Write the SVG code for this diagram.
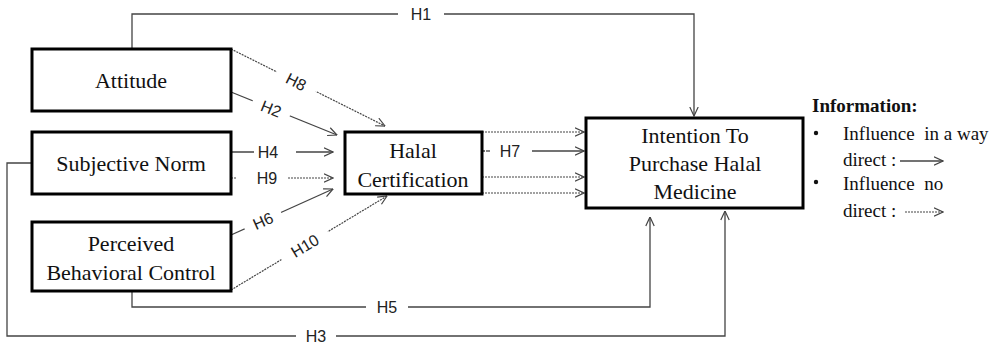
<svg xmlns="http://www.w3.org/2000/svg" width="996" height="346" viewBox="0 0 996 346">
  <style>
    .box { fill: #fff; stroke: #000; stroke-width: 3; }
    .node-text { font-family: "Liberation Serif", "Times New Roman", serif; font-size: 22px; fill: #111; text-anchor: middle; }
    .solid { fill: none; stroke: #444; stroke-width: 1.3; }
    .dash { fill: none; stroke: #444; stroke-width: 1.2; stroke-dasharray: 2 1; }
    .lbl { font-family: "Liberation Sans", Arial, sans-serif; font-size: 16px; fill: #222; text-anchor: middle; dominant-baseline: central; }
    .gap { fill: #fff; stroke: none; }
    .legend { font-family: "Liberation Serif", "Times New Roman", serif; font-size: 19px; fill: #111; }
  </style>
  <defs>
    <marker id="arr" viewBox="0 0 10 10" refX="9.5" refY="5" markerWidth="10" markerHeight="10" markerUnits="userSpaceOnUse" orient="auto">
      <path d="M0.5,0.8 L9.5,5 L0.5,9.2" fill="none" stroke="#444" stroke-width="1.2"/>
    </marker>
  </defs>
  <rect width="996" height="346" fill="#fff"/>

  <!-- connectors -->
  <g id="connectors">
    <!-- H1: Attitude -> Intention -->
    <polyline class="solid" points="132,49 132,14 694,14 694,116" marker-end="url(#arr)"/>
    <!-- H3: Subjective Norm -> Intention -->
    <polyline class="solid" points="32,163 7,163 7,336 725,336 725,211" marker-end="url(#arr)"/>
    <!-- H5: PBC -> Intention -->
    <polyline class="solid" points="132,291 132,307 650,307 650,217" marker-end="url(#arr)"/>
    <!-- H8 dashed: Attitude -> Halal -->
    <line class="dash" x1="231" y1="49" x2="385" y2="126" marker-end="url(#arr)"/>
    <!-- H2: Attitude -> Halal -->
    <line class="solid" x1="231" y1="92" x2="337" y2="135" marker-end="url(#arr)"/>
    <!-- H4: Subjective Norm -> Halal -->
    <line class="solid" x1="231" y1="152" x2="333" y2="152" marker-end="url(#arr)"/>
    <!-- H9 dashed: Subjective Norm -> Halal -->
    <line class="dash" x1="231" y1="178" x2="333" y2="178" marker-end="url(#arr)"/>
    <!-- H6: PBC -> Halal -->
    <line class="solid" x1="231" y1="235" x2="333" y2="189" marker-end="url(#arr)"/>
    <!-- H10 dashed: PBC -> Halal -->
    <line class="dash" x1="231" y1="290" x2="387" y2="196" marker-end="url(#arr)"/>
    <!-- Halal -> Intention -->
    <line class="dash" x1="482" y1="132" x2="584" y2="132" marker-end="url(#arr)"/>
    <line class="solid" x1="482" y1="151" x2="584" y2="151" marker-end="url(#arr)"/>
    <line class="dash" x1="482" y1="177" x2="584" y2="177" marker-end="url(#arr)"/>
    <line class="dash" x1="482" y1="193" x2="584" y2="193" marker-end="url(#arr)"/>

    <!-- path labels with white gaps -->
    <rect class="gap" x="398" y="6" width="46" height="16"/>
    <text class="lbl" x="421" y="14">H1</text>
    <rect class="gap" x="296" y="328" width="40" height="16"/>
    <text class="lbl" x="316" y="336">H3</text>
    <rect class="gap" x="366" y="299" width="42" height="16"/>
    <text class="lbl" x="387" y="307">H5</text>
    <rect class="gap" x="254" y="144" width="42" height="16"/>
    <text class="lbl" x="268" y="152">H4</text>
    <rect class="gap" x="237" y="170" width="50" height="16"/>
    <text class="lbl" x="267" y="178">H9</text>
    <rect class="gap" x="485" y="143" width="47" height="16"/>
    <line class="solid" x1="486" y1="151" x2="490" y2="151"/>
    <text class="lbl" x="510" y="151">H7</text>
    <g transform="translate(296,82) rotate(26.6)">
      <rect class="gap" x="-22" y="-8" width="44" height="16"/>
      <text class="lbl" x="0" y="0">H8</text>
    </g>
    <g transform="translate(271,109) rotate(22)">
      <rect class="gap" x="-20" y="-8" width="40" height="16"/>
      <text class="lbl" x="0" y="0">H2</text>
    </g>
    <g transform="translate(263,221) rotate(-24)">
      <rect class="gap" x="-20" y="-8" width="40" height="16"/>
      <text class="lbl" x="0" y="0">H6</text>
    </g>
    <g transform="translate(305,246) rotate(-31)">
      <rect class="gap" x="-27" y="-8" width="54" height="16"/>
      <text class="lbl" x="0" y="0">H10</text>
    </g>
  </g>

  <!-- nodes -->
  <g id="attitude">
    <rect class="box" x="32" y="49" width="199" height="62"/>
    <text class="node-text" x="131" y="88">Attitude</text>
  </g>
  <g id="subjective-norm">
    <rect class="box" x="32" y="132" width="199" height="62"/>
    <text class="node-text" x="131" y="171">Subjective Norm</text>
  </g>
  <g id="perceived-behavioral-control">
    <rect class="box" x="32" y="222" width="199" height="69"/>
    <text class="node-text" x="131" y="251">Perceived</text>
    <text class="node-text" x="131" y="280">Behavioral Control</text>
  </g>
  <g id="halal-certification">
    <rect class="box" x="345" y="132" width="137" height="62"/>
    <text class="node-text" x="413" y="158">Halal</text>
    <text class="node-text" x="413" y="187">Certification</text>
  </g>
  <g id="intention">
    <rect class="box" x="586" y="118" width="217" height="90"/>
    <text class="node-text" x="695" y="143">Intention To</text>
    <text class="node-text" x="695" y="171">Purchase Halal</text>
    <text class="node-text" x="695" y="199">Medicine</text>
  </g>

  <!-- legend -->
  <g id="legend">
    <text class="legend" x="812" y="112" font-weight="bold">Information:</text>
    <circle cx="816" cy="133" r="2.2" fill="#111"/>
    <text class="legend" x="843" y="140" xml:space="preserve">Influence  in a way</text>
    <text class="legend" x="843" y="166">direct :</text>
    <line class="solid" x1="900" y1="161" x2="943" y2="161" marker-end="url(#arr)"/>
    <circle cx="816" cy="182" r="2.2" fill="#111"/>
    <text class="legend" x="843" y="190" xml:space="preserve">Influence  no</text>
    <text class="legend" x="843" y="217">direct :</text>
    <line class="dash" x1="905" y1="212" x2="943" y2="212" marker-end="url(#arr)"/>
  </g>
</svg>
